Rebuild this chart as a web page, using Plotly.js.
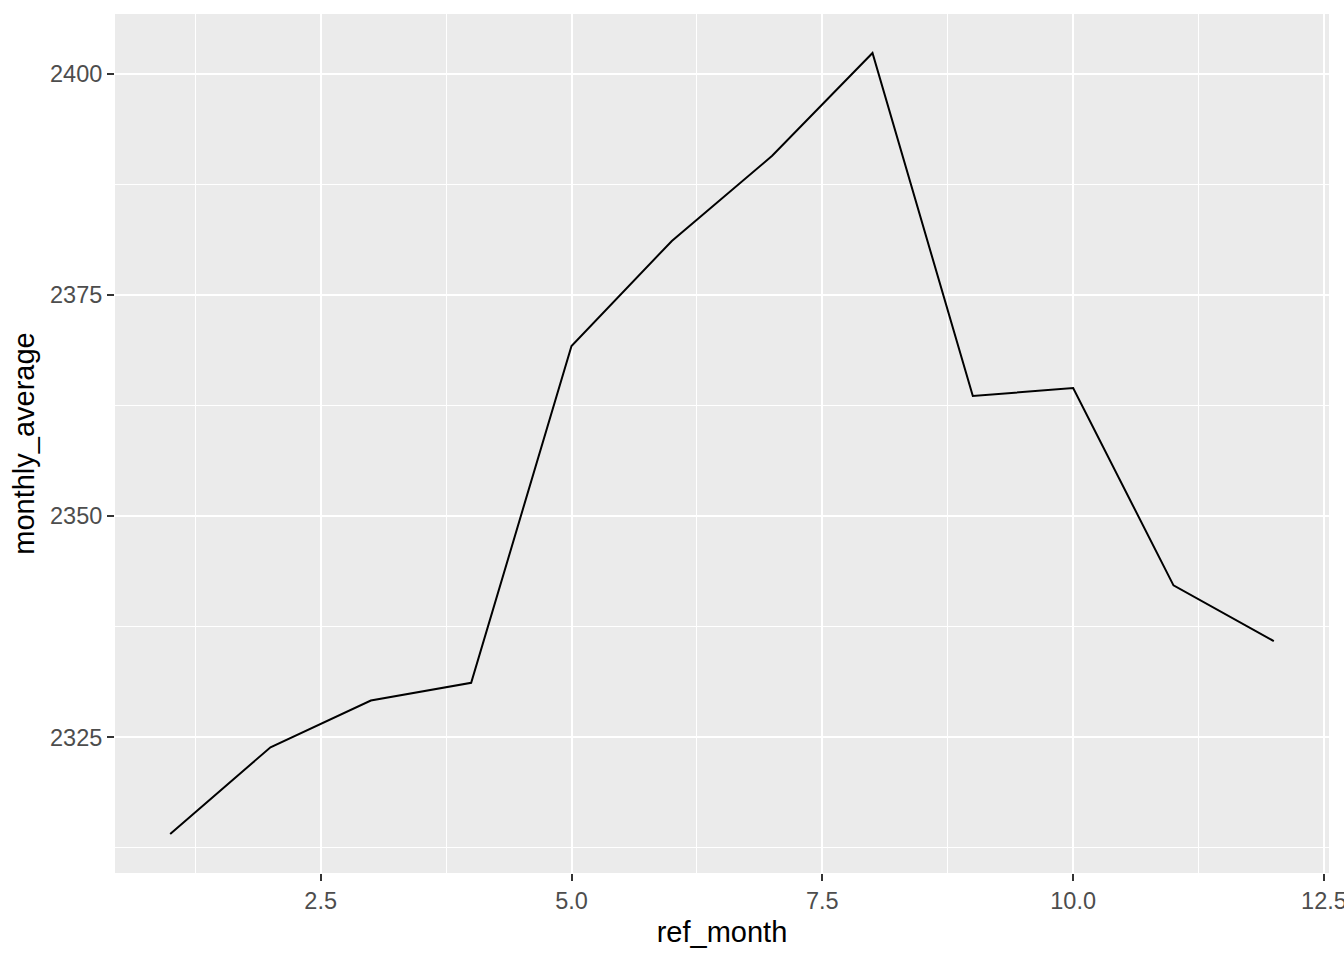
<!DOCTYPE html>
<html>
<head>
<meta charset="utf-8">
<script src="https://cdn.plot.ly/plotly-3.0.1.min.js"></script>
<style>html,body{margin:0;padding:0;background:#fff;overflow:hidden;}#chart{width:1344px;height:960px;}</style>
</head>
<body>
<div id="chart"></div>
<script>
const ref_month = [1, 2, 3, 4, 5, 6, 7, 8, 9, 10, 11, 12];
const monthly_average = [2314.07, 2323.87, 2329.15, 2331.16, 2369.23, 2381.1, 2390.72, 2402.34, 2363.57, 2364.47, 2342.17, 2335.87];
const xTicks = [2.5, 5.0, 7.5, 10.0, 12.5];
const xTickText = ["2.5", "5.0", "7.5", "10.0", "12.5"];
const yTicks = [2325, 2350, 2375, 2400];
const yTickText = ["2325", "2350", "2375", "2400"];

const FONT = "Liberation Sans, Arial, sans-serif";

const trace = {
  x: ref_month,
  y: monthly_average,
  type: "scatter",
  mode: "lines",
  line: {color: "#000000", width: 2},
  hoverinfo: "x+y"
};

const layout = {
  width: 1344,
  height: 960,
  margin: {l: 115, r: 15, t: 14, b: 87, pad: 0},
  paper_bgcolor: "#FFFFFF",
  plot_bgcolor: "#EBEBEB",
  showlegend: false,
  font: {family: FONT, color: "#4D4D4D", size: 23.5},
  xaxis: {
    range: [0.45, 12.55],
    tickmode: "array",
    tickvals: xTicks,
    ticktext: xTickText,
    ticks: "outside",
    ticklen: 7,
    tickwidth: 2,
    tickcolor: "#333333",
    tickfont: {family: FONT, size: 23.5, color: "#4D4D4D"},
    ticklabeloverflow: "allow",
    showgrid: true,
    gridcolor: "#FFFFFF",
    gridwidth: 2.1,
    minor: {tickmode: "array", tickvals: [1.25, 3.75, 6.25, 8.75, 11.25], showgrid: true, gridcolor: "#FFFFFF", gridwidth: 1, ticks: ""},
    zeroline: false,
    showline: false,
    title: {text: "ref_month", font: {family: FONT, size: 29, color: "#000000"}, standoff: 8},
    automargin: false
  },
  yaxis: {
    range: [2309.66, 2406.75],
    tickmode: "array",
    tickvals: yTicks,
    ticktext: yTickText,
    ticks: "outside",
    ticklen: 7,
    tickwidth: 2,
    tickcolor: "#333333",
    tickfont: {family: FONT, size: 23.5, color: "#4D4D4D"},
    showgrid: true,
    gridcolor: "#FFFFFF",
    gridwidth: 2.1,
    minor: {tickmode: "array", tickvals: [2312.5, 2337.5, 2362.5, 2387.5], showgrid: true, gridcolor: "#FFFFFF", gridwidth: 1, ticks: ""},
    zeroline: false,
    showline: false,
    title: {text: "monthly_average", font: {family: FONT, size: 29, color: "#000000"}, standoff: 6},
    automargin: false
  }
};

Plotly.newPlot("chart", [trace], layout, {displayModeBar: false});
</script>
</body>
</html>
